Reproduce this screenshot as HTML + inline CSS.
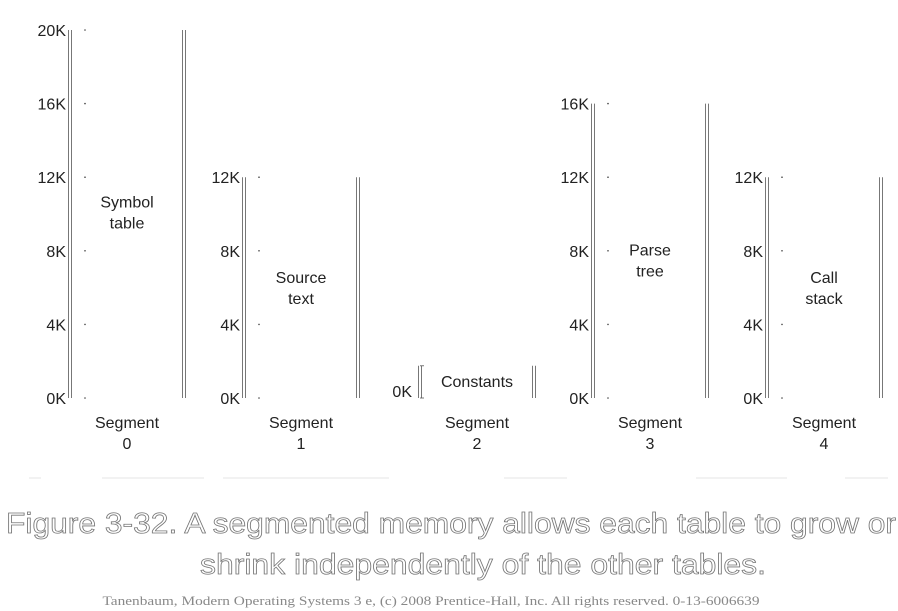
<!DOCTYPE html>
<html><head><meta charset="utf-8"><style>
html,body{margin:0;padding:0;background:#fff;width:898px;height:611px;overflow:hidden}
svg{display:block;font-family:"Liberation Sans",sans-serif}
</style></head><body>
<svg id="fig" width="898" height="611">
<g id="segs"></g>
<g stroke="#e6e6e6" stroke-width="1">
<line x1="29" y1="478" x2="41" y2="478"/><line x1="102" y1="478" x2="204" y2="478"/><line x1="223" y1="478" x2="389" y2="478"/><line x1="504" y1="478" x2="567" y2="478"/><line x1="696" y1="478" x2="787" y2="478"/><line x1="845" y1="478" x2="888" y2="478"/>
</g>
<text x="451" y="533" text-anchor="middle" font-size="29" fill="#fff" stroke="#777" stroke-width="0.8" textLength="890" lengthAdjust="spacingAndGlyphs">Figure 3-32. A segmented memory allows each table to grow or</text>
<text x="483" y="574" text-anchor="middle" font-size="29" fill="#fff" stroke="#777" stroke-width="0.8" textLength="566" lengthAdjust="spacingAndGlyphs">shrink independently of the other tables.</text>
<text x="431" y="605" text-anchor="middle" font-size="13" fill="#888" font-family="Liberation Serif, serif" textLength="657" lengthAdjust="spacingAndGlyphs">Tanenbaum, Modern Operating Systems 3 e, (c) 2008 Prentice-Hall, Inc. All rights reserved. 0-13-6006639</text>
</svg>
<script>
const segNames=["Segment 0","Segment 1","Segment 2","Segment 3","Segment 4"];
const segSizesK=[20,12,1.75,16,12];
const segContents=[["Symbol","table"],["Source","text"],["Constants"],["Parse","tree"],["Call","stack"]];
const tickStepK=4;

const NS="http://www.w3.org/2000/svg";
const g=document.getElementById("segs");
const baseY=398, pxPerK=18.4;
const leftX=[70,244,420,593,767], width=114;
const labelShiftK=[0.1,0,0,-0.5,0];
function y(k){return baseY-k*pxPerK;}
function el(tag,attrs,parent,text){const e=document.createElementNS(NS,tag);for(const k in attrs)e.setAttribute(k,attrs[k]);if(text!==undefined)e.textContent=text;parent.appendChild(e);return e;}
segSizesK.forEach((s,i)=>{
  const sg=el("g",{},g);
  
  
  const lx=leftX[i], rx=lx+width, top=y(s);
  const st={stroke:"#555","stroke-width":"0.8",fill:"none"};
  [lx-1.5,lx+1.5].forEach(x=>el("line",Object.assign({x1:x,y1:top,x2:x,y2:baseY},st),sg));
  [rx-1.5,rx+1.5].forEach(x=>el("line",Object.assign({x1:x,y1:top,x2:x,y2:baseY},st),sg));
  if(s<tickStepK){
    el("line",Object.assign({x1:lx,y1:top,x2:lx+4,y2:top},st),sg);
    el("line",Object.assign({x1:lx,y1:baseY,x2:lx+4,y2:baseY},st),sg);
    const t=el("text",{x:lx-8,y:baseY-1,"text-anchor":"end","font-size":"16",fill:"#222"},sg,"0K");
    
    
  } else {
    for(let k=0;k<=s+0.01;k+=tickStepK){
      const ty=y(k);
      el("circle",{cx:lx+15,cy:ty,r:"0.8",fill:"#444"},sg);
      const t=el("text",{x:lx-4,y:ty+6,"text-anchor":"end","font-size":"16",fill:"#222"},sg,k+"K");
      
      
    }
  }
  const cx=lx+width/2;
  const lines=segContents[i];
  const cy=s<tickStepK?baseY-17:y(s*0.5+labelShiftK[i]);
  lines.forEach((ln,j)=>{
    const t=el("text",{x:cx,y:cy+j*21-(lines.length-1)*10.5+6,"text-anchor":"middle","font-size":"16",fill:"#222"},sg,ln);
    
    
  });
  const parts=segNames[i].split(" ");
  const n1=el("text",{x:cx,y:428,"text-anchor":"middle","font-size":"16",fill:"#222"},sg,parts[0]);
  
  
  const n2=el("text",{x:cx,y:449,"text-anchor":"middle","font-size":"16",fill:"#222"},sg,parts[1]);
  
  
});
</script>
</body></html>
